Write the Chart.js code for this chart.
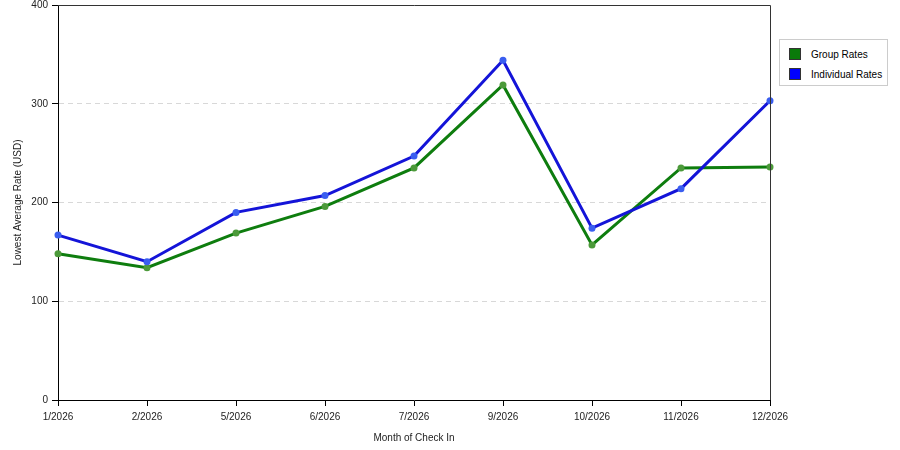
<!DOCTYPE html>
<html>
<head>
<meta charset="utf-8">
<script src="https://cdn.jsdelivr.net/npm/chart.js@4/dist/chart.umd.min.js"></script>
<style>
  html, body { margin: 0; padding: 0; background: #fff; }
  #wrap { position: relative; width: 900px; height: 450px; }
  #legend { position: absolute; left: 779px; top: 39px; width: 109px; height: 47px;
    border: 1px solid #cccccc; background: #fff; font: 10px "Liberation Sans", Arial, sans-serif; color: #000; box-sizing: border-box; }
  .item { position: absolute; left: 9px; height: 13px; line-height: 13px; }
  .sw { position: absolute; left: 0; top: 0; width: 12px; height: 12px; border: 1px solid #333; box-sizing: border-box; }
  .lb { position: absolute; left: 22px; top: 0; white-space: nowrap; }
</style>
</head>
<body>
<div id="wrap">
  <canvas id="c" width="900" height="450"></canvas>
  <div id="legend"></div>
</div>
<script>
const categories = ["1/2026","2/2026","5/2026","6/2026","7/2026","9/2026","10/2026","11/2026","12/2026"];
const groupRates = [148, 134, 169, 196, 235, 319, 157, 235, 236];
const individualRates = [167, 140, 190, 207, 247, 344, 174, 214, 303];
const seriesNames = ["Group Rates", "Individual Rates"];
const yTicks = [0, 100, 200, 300, 400];
const xTitle = "Month of Check In";
const yTitle = "Lowest Average Rate (USD)";

const green = '#0e7d0e';
const blue = '#1414d8';
const FONT = { family: '"Liberation Sans", Arial, sans-serif', size: 10 };

const legendEl = document.getElementById('legend');
[[seriesNames[0], '#0a7a0a'], [seriesNames[1], '#0000ff']].forEach((s, i) => {
  const d = document.createElement('div');
  d.className = 'item';
  d.style.top = (8 + i * 20) + 'px';
  d.innerHTML = '<span class="sw" style="background:' + s[1] + '"></span><span class="lb">' + s[0] + '</span>';
  legendEl.appendChild(d);
});

const borderBox = {
  id: 'borderBox',
  afterDraw(chart) {
    const {ctx, chartArea: a} = chart;
    ctx.save();
    ctx.strokeStyle = '#333';
    ctx.lineWidth = 1;
    ctx.beginPath();
    ctx.moveTo(a.left, a.top + 0.5);
    ctx.lineTo(a.right + 0.5, a.top + 0.5);
    ctx.lineTo(a.right + 0.5, a.bottom);
    ctx.stroke();
    ctx.restore();
  }
};

new Chart(document.getElementById('c'), {
  type: 'line',
  data: {
    labels: categories,
    datasets: [
      { label: seriesNames[1], data: individualRates, borderColor: blue, backgroundColor: blue,
        borderWidth: 3, pointRadius: 3.5, pointBackgroundColor: '#3a5ef0', pointBorderWidth: 0, tension: 0, order: 1 },
      { label: seriesNames[0], data: groupRates, borderColor: green, backgroundColor: green,
        borderWidth: 3, pointRadius: 3.5, pointBackgroundColor: '#4c9a3a', pointBorderWidth: 0, tension: 0, order: 2 }
    ]
  },
  options: {
    responsive: false,
    animation: false,
    devicePixelRatio: 1,
    layout: { padding: { top: 5, right: 130, left: 0, bottom: 0 } },
    plugins: { legend: { display: false }, tooltip: { enabled: false } },
    scales: {
      x: {
        offset: false,
        grid: { drawOnChartArea: false, drawTicks: true, tickLength: 6, tickColor: '#000' },
        border: { display: true, color: '#000', width: 1 },
        ticks: { font: FONT, color: '#222', padding: 5, maxRotation: 0, autoSkip: false },
        title: { display: true, text: xTitle, font: FONT, color: '#222', padding: { top: 0, bottom: 6 } },
        afterFit(s) { s.height = 50; s.paddingLeft = 0; s.paddingRight = 0; }
      },
      y: {
        min: 0, max: 400,
        afterBuildTicks(s) { s.ticks = yTicks.map(v => ({ value: v })); },
        grid: {
          color: ctx => (ctx.tick && (ctx.tick.value === 0 || ctx.tick.value === 400)) ? 'rgba(0,0,0,0)' : '#d8d8d8',
          drawTicks: true, tickLength: 6, tickColor: '#000', tickBorderDash: []
        },
        border: { display: true, color: '#000', width: 1, dash: [5, 4] },
        ticks: { font: FONT, color: '#222', padding: 4 },
        title: { display: true, text: yTitle, font: FONT, color: '#222', padding: { top: 12, bottom: 0 } },
        afterFit(s) { s.width = 58; s.paddingTop = 0; s.paddingBottom = 0; }
      }
    }
  },
  plugins: [borderBox]
});
</script>
</body>
</html>
